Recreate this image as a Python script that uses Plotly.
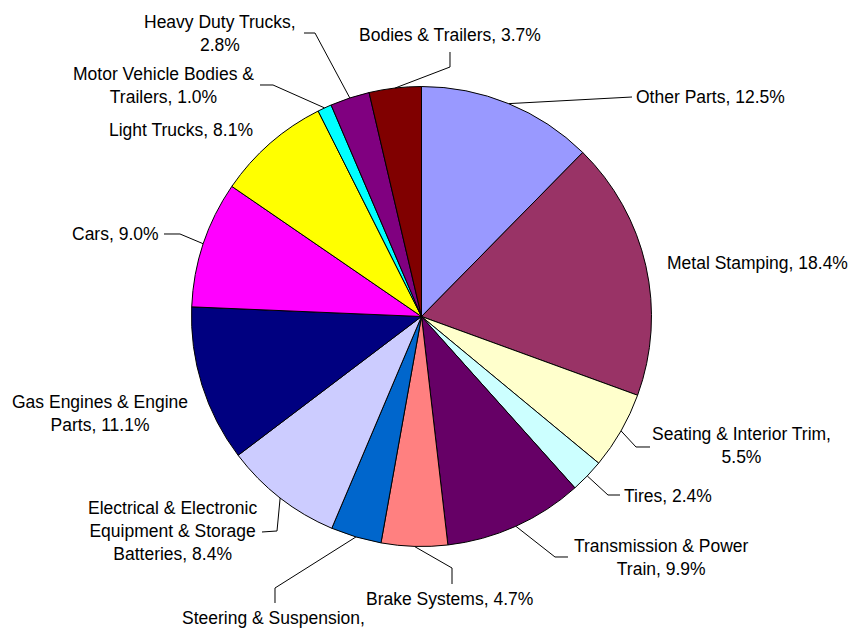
import math
import plotly.graph_objects as go

# ---- data ----
categories = [
    "Other Parts", "Metal Stamping", "Seating & Interior Trim", "Tires",
    "Transmission & Power Train", "Brake Systems", "Steering & Suspension",
    "Electrical & Electronic Equipment & Storage Batteries",
    "Gas Engines & Engine Parts", "Cars", "Light Trucks",
    "Motor Vehicle Bodies & Trailers", "Heavy Duty Trucks", "Bodies & Trailers",
]
shares = [12.5, 18.4, 5.5, 2.4, 9.9, 4.7, 3.6, 8.4, 11.1, 9.0, 8.1, 1.0, 2.8, 3.7]
label_texts = [
    "Other Parts, 12.5%",
    "Metal Stamping, 18.4%",
    "Seating & Interior Trim,<br>5.5%",
    "Tires, 2.4%",
    "Transmission & Power<br>Train, 9.9%",
    "Brake Systems, 4.7%",
    "Steering & Suspension,<br>3.6%",
    "Electrical & Electronic<br>Equipment & Storage<br>Batteries, 8.4%",
    "Gas Engines & Engine<br>Parts, 11.1%",
    "Cars, 9.0%",
    "Light Trucks, 8.1%",
    "Motor Vehicle Bodies &<br>Trailers, 1.0%",
    "Heavy Duty Trucks,<br>2.8%",
    "Bodies & Trailers, 3.7%",
]

# ---- style / layout ----
colors = ["#9999FF", "#993366", "#FFFFCC", "#CCFFFF", "#660066", "#FF8080",
          "#0066CC", "#CCCCFF", "#000080", "#FF00FF", "#FFFF00", "#00FFFF",
          "#800080", "#800000"]
W, H = 856, 628
CX, CY, R = 421.5, 316.5, 230.0
FONT = dict(family="Liberation Sans, Arial, sans-serif", size=17.5, color="#000000")

# label placement (pixels): anchor x, anchor y, xanchor, leader points after the slice edge
label_layout = [
    (634, 97, "left", [(632, 97)]),
    (665, 263, "left", None),
    (741, 446, "center", [(636, 447), (650, 447)]),
    (622, 496, "left", [(608, 495), (620, 495)]),
    (661, 557, "center", [(555, 557), (568, 557)]),
    (449, 599, "center", [(452, 568), (452, 584)]),
    (273, 629, "center", [(275, 588), (275, 603)]),
    (172, 531, "center", [(277, 531), (262, 532)]),
    (100, 413, "center", None),
    (161, 234, "right", [(180, 234), (164, 234)]),
    (107, 130, "left", None),
    (163, 85, "center", [(273, 85), (260, 85)]),
    (220, 33, "center", [(315, 33), (304, 33)]),
    (450, 35, "center", [(450, 67), (450, 52)]),
]


def px(x):
    return x / W


def py(y):
    return 1 - y / H


fig = go.Figure(go.Pie(
    labels=categories,
    values=shares,
    sort=False,
    direction="clockwise",
    rotation=0,
    textinfo="none",
    hoverinfo="label+percent",
    marker=dict(colors=colors, line=dict(color="#000000", width=1)),
    domain=dict(x=[px(CX - R), px(CX + R)], y=[py(CY + R), py(CY - R)]),
    showlegend=False,
))

total = sum(shares)
cum = 0.0
annotations = []
shapes = []
for v, txt, (ax, ay, xa, leader) in zip(shares, label_texts, label_layout):
    mid = (cum + v / 2) / total * 2 * math.pi
    cum += v
    ex, ey = CX + R * math.sin(mid), CY - R * math.cos(mid)
    annotations.append(dict(
        x=px(ax), y=py(ay), xref="paper", yref="paper", text=txt,
        showarrow=False, xanchor=xa, yanchor="middle", align="center", font=FONT,
    ))
    if leader:
        pts = [(ex, ey)] + leader
        path = "M " + " L ".join(f"{px(x):.5f},{py(y):.5f}" for x, y in pts)
        shapes.append(dict(type="path", path=path, xref="paper", yref="paper",
                           line=dict(color="#000000", width=1)))

fig.update_layout(
    width=W, height=H,
    margin=dict(l=0, r=0, t=0, b=0),
    paper_bgcolor="#FFFFFF", plot_bgcolor="#FFFFFF",
    annotations=annotations, shapes=shapes,
)

fig.write_html("out.html")
